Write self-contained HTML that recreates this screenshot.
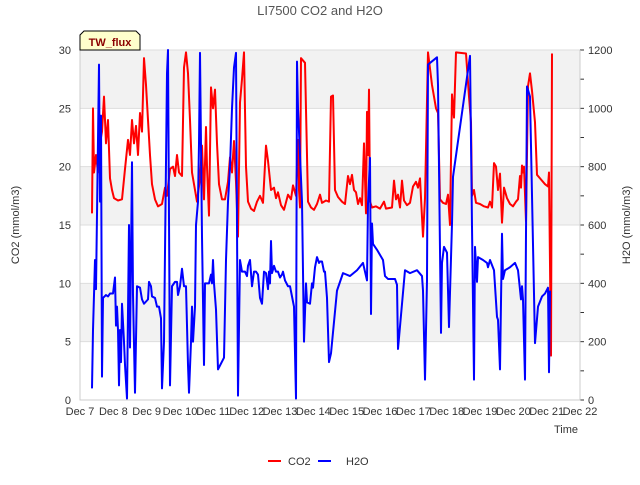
<!DOCTYPE html>
<html><head><meta charset="utf-8">
<style>
body{margin:0;background:#fff;}
svg{font-family:"Liberation Sans","DejaVu Sans",sans-serif;}
</style></head>
<body>
<svg id="chart" width="640" height="480" viewBox="0 0 640 480" xmlns="http://www.w3.org/2000/svg">
<text x="320" y="15" text-anchor="middle" font-size="13" fill="#555">LI7500 CO2 and H2O</text>
<g id="bands"></g><g id="grid"></g><g id="axes"></g><g id="series"></g>
<g>
<path d="M80,50 L80,35 L84,31 L136,31 L140,35 L140,50 Z" fill="#ffffcc" stroke="#000" stroke-width="1"/>
<text x="110" y="46" text-anchor="middle" font-size="11" font-weight="bold" fill="#8b0000">TW_flux</text>
</g>
<text transform="translate(19,225) rotate(-90)" text-anchor="middle" font-size="11" fill="#333">CO2 (mmol/m3)</text>
<text transform="translate(630,225) rotate(-90)" text-anchor="middle" font-size="11" fill="#333">H2O (mmol/m3)</text>
<text x="578" y="433" text-anchor="end" font-size="11" fill="#333">Time</text>
<g>
<g><line x1="268" y1="461" x2="281" y2="461" stroke="#ff0000" stroke-width="2"/><text x="288" y="465" font-size="11" fill="#333">CO2</text></g>
<g><line x1="318" y1="461" x2="331" y2="461" stroke="#0000ff" stroke-width="2"/><text x="346" y="465" font-size="11" fill="#333">H2O</text></g>
</g>
</svg>
<script>
const xTickLabels=["Dec 7","Dec 8","Dec 9","Dec 10","Dec 11","Dec 12","Dec 13","Dec 14","Dec 15","Dec 16","Dec 17","Dec 18","Dec 19","Dec 20","Dec 21","Dec 22"];
const leftTicks=[0,5,10,15,20,25,30];
const rightTicks=[0,200,400,600,800,1000,1200];
const co2Days=[.36,.39,.42,.48,.54,.60,.66,.72,.78,.84,.90,.96,1.02,1.14,1.26,1.35,1.44,1.50,1.56,1.62,1.68,1.74,1.80,1.86,1.92,1.98,2.04,2.10,2.16,2.25,2.34,2.46,2.55,2.61,2.70,2.79,2.85,2.91,2.97,3.06,3.12,3.18,3.24,3.30,3.36,3.45,3.51,3.60,3.66,3.72,3.78,3.81,3.87,3.93,3.99,4.05,4.11,4.17,4.26,4.35,4.44,4.50,4.56,4.62,4.68,4.74,4.80,4.86,4.92,4.98,5.04,5.13,5.22,5.31,5.40,5.49,5.58,5.64,5.73,5.82,5.88,5.94,6.03,6.12,6.24,6.33,6.39,6.48,6.54,6.57,6.60,6.63,6.75,6.84,6.93,7.02,7.11,7.20,7.26,7.38,7.47,7.53,7.59,7.65,7.74,7.86,7.95,8.04,8.10,8.16,8.22,8.28,8.34,8.40,8.46,8.52,8.58,8.61,8.64,8.67,8.70,8.76,8.88,9.00,9.12,9.18,9.36,9.42,9.48,9.54,9.60,9.66,9.72,9.81,9.90,9.99,10.08,10.14,10.20,10.29,10.35,10.44,10.56,10.68,10.74,10.80,10.89,10.98,11.04,11.10,11.16,11.22,11.28,11.58,11.67,11.73,11.76,11.82,11.88,12.00,12.12,12.24,12.30,12.36,12.42,12.48,12.54,12.60,12.66,12.72,12.81,12.90,12.99,13.08,13.14,13.20,13.23,13.26,13.29,13.32,13.38,13.44,13.50,13.56,13.65,13.71,13.83,13.95,14.04,14.07,14.13,14.16];
const co2Values=[16,25,19.5,21,19.5,22,23,26,22,24,19,18,17.3,17.1,17.2,19.8,22.3,21,24,22,23.5,21,24.6,23,29.3,27,24,21,18.5,17.2,16.6,16.8,18.2,17.5,19.8,20,19.2,21,19.5,19.2,28.5,29.8,28,24,19.5,18,17,19,21.8,17.2,23.4,20,15.8,26.8,25,26.6,22,18.5,17.2,17.2,18.7,20.8,19.5,22.2,18.7,14,25.5,27.5,29.8,20,17,16.4,16.2,17,17.5,16.9,21.8,20.5,18,18.2,17.3,17.8,16.7,16.3,17.6,17.2,18.4,17.5,22.3,18,16.5,29.3,28.9,17,16.5,16.3,16.8,17.6,16.9,17.1,17,26,26.1,18,17.4,17,16.8,19.2,18.5,19.3,18,17.8,16.8,17.3,16.7,22,16,24.7,21,26.6,17,16.5,16.6,16.4,17,16.4,16.5,18.8,17.2,17.6,16.5,18.8,17.1,16.7,16.9,18.3,18.7,18.2,19,14,17.3,29.8,27,25,24.6,17.2,16.9,16.8,17.6,15,26.2,24.2,29.8,29.7,26,23.8,17.5,18,16.9,16.8,16.6,16.5,17,16.5,20.3,20,18,19.4,15.2,18.2,17.3,16.8,16.6,17,17.2,19.2,18.2,20.1,19.5,20,15.3,26.9,28,26.5,23.8,19.3,18.9,18.5,18.3,19.5,3.8,29.7];
const h2oDays=[.36,.39,.45,.48,.57,.60,.63,.66,.69,.78,.84,.90,.99,1.05,1.08,1.11,1.14,1.17,1.20,1.23,1.26,1.32,1.35,1.41,1.47,1.50,1.56,1.59,1.65,1.71,1.80,1.86,1.92,2.04,2.07,2.13,2.16,2.25,2.31,2.37,2.43,2.46,2.52,2.61,2.64,2.70,2.76,2.85,2.91,2.94,3.00,3.06,3.12,3.18,3.24,3.27,3.33,3.36,3.39,3.45,3.48,3.54,3.57,3.60,3.66,3.72,3.75,3.81,3.87,3.93,3.96,3.99,4.02,4.08,4.14,4.32,4.38,4.44,4.50,4.56,4.62,4.68,4.74,4.80,4.86,4.95,5.01,5.04,5.10,5.16,5.22,5.28,5.34,5.40,5.46,5.52,5.58,5.64,5.67,5.70,5.73,5.76,5.82,5.88,5.94,6.00,6.06,6.09,6.15,6.24,6.30,6.42,6.48,6.51,6.54,6.66,6.72,6.78,6.81,6.90,6.96,6.99,7.02,7.05,7.11,7.17,7.20,7.26,7.32,7.35,7.41,7.47,7.53,7.71,7.89,8.10,8.31,8.49,8.61,8.64,8.70,8.73,8.76,8.79,8.91,9.09,9.15,9.24,9.45,9.51,9.54,9.75,9.90,10.11,10.26,10.29,10.35,10.41,10.44,10.71,10.74,10.83,10.86,10.92,11.01,11.07,11.16,11.19,11.70,11.76,11.82,11.85,11.91,11.94,12.09,12.21,12.24,12.30,12.42,12.51,12.54,12.60,12.66,12.69,12.75,12.90,13.05,13.14,13.23,13.26,13.29,13.35,13.41,13.50,13.65,13.74,13.86,13.95,14.04,14.07,14.10];
const h2oValues=[40,240,480,380,1150,680,975,80,350,360,355,365,365,420,255,320,240,50,240,130,330,200,120,5,600,180,815,360,25,390,385,345,330,345,405,390,355,350,320,320,280,40,200,1120,1200,50,390,405,405,360,390,450,390,390,120,25,200,320,200,320,600,680,880,1190,560,120,400,400,400,430,400,480,400,310,105,145,480,680,800,1000,1140,1190,15,480,440,440,425,460,480,390,440,440,430,350,330,440,435,380,440,400,545,435,460,440,440,420,430,440,410,390,390,320,5,1160,1000,680,200,400,335,330,400,385,420,455,490,470,475,475,440,440,350,130,160,375,435,425,445,470,410,675,830,295,605,535,515,480,425,415,415,395,175,445,435,445,425,375,70,410,1150,1175,1080,230,470,525,505,250,605,765,1180,595,70,525,405,490,480,470,455,480,445,285,275,105,570,415,445,455,470,445,345,390,345,70,1075,1040,195,320,355,365,385,95,375];

const NS="http://www.w3.org/2000/svg";
const L=80,R=580,T=50,B=400;
const xs=d=>L+d*(R-L)/15;
const yl=v=>B-v*(B-T)/30;
const yr=v=>B-v*(B-T)/1200;
function mk(tag,attrs,parent){const e=document.createElementNS(NS,tag);for(const k in attrs)e.setAttribute(k,attrs[k]);parent.appendChild(e);return e;}
const bands=document.getElementById('bands'),grid=document.getElementById('grid'),axes=document.getElementById('axes'),series=document.getElementById('series');
for(let i=0;i<6;i++){
  const r=mk('rect',{x:L,y:yl(leftTicks[i+1]),width:R-L,height:yl(leftTicks[i])-yl(leftTicks[i+1]),fill:(i%2===1)?'#f2f2f2':'#ffffff'},bands);
  
  
}
leftTicks.forEach(v=>{
  const g=mk('line',{x1:L,x2:R,y1:yl(v),y2:yl(v),stroke:'#dddddd','stroke-width':1},grid);
  
  
  const t=mk('text',{x:L-9,y:yl(v)+4,'text-anchor':'end','font-size':11,fill:'#333'},axes);
  t.textContent=v;
  
  
});
rightTicks.forEach(v=>{
  const t=mk('text',{x:R+8,y:yr(v)+4,'font-size':11,fill:'#333'},axes);
  t.textContent=v;
  
  
});
for(let v=0;v<=1200;v+=100){
  const m=mk('line',{x1:R,x2:R+4,y1:yr(v),y2:yr(v),stroke:'#333','stroke-width':1},axes);
  
  
}
xTickLabels.forEach((s,i)=>{
  const t=mk('text',{x:xs(i),y:415,'text-anchor':'middle','font-size':11,fill:'#333'},axes);
  t.textContent=s;
  
  
});
const ax=mk('path',{d:`M${L},${T} L${L},${B} L${R},${B} L${R},${T}`,fill:'none',stroke:'#cccccc','stroke-width':1},axes);


const co2=mk('polyline',{points:co2Days.map((d,i)=>xs(d)+','+yl(co2Values[i])).join(' '),fill:'none',stroke:'#ff0000','stroke-width':2,'stroke-linejoin':'round'},series);


const h2o=mk('polyline',{points:h2oDays.map((d,i)=>xs(d)+','+yr(h2oValues[i])).join(' '),fill:'none',stroke:'#0000ff','stroke-width':2,'stroke-linejoin':'round'},series);


</script>
</body></html>
